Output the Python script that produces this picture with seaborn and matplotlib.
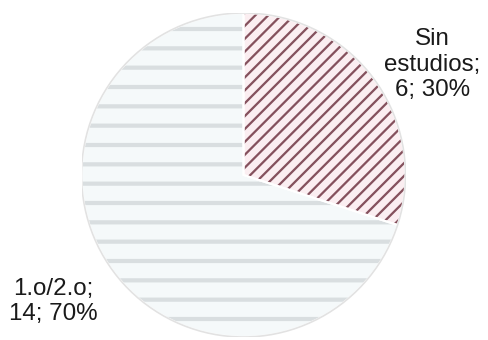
import matplotlib
matplotlib.use("Agg")
import matplotlib.pyplot as plt
import seaborn as sns

# data
categorias = ["Sin\nestudios", "1.o/2.o"]
valores = [6, 14]
porcentajes = [30, 70]

colores_fondo = ["#fbeef1", "#f5f9fa"]
colores_trama = ["#85515d", "#d9dee0"]
tramas = ["///", "-"]

sns.set_style("white")
plt.rcParams["font.family"] = ["Liberation Sans", "DejaVu Sans"]
plt.rcParams["hatch.linewidth"] = 1.4

DPI = 116
fig = plt.figure(figsize=(488 / DPI, 340 / DPI), dpi=DPI)
cx, cy, r = 243.5, 175, 162
ax = fig.add_axes([(cx - r) / 488, (340 - cy - r) / 340, 2 * r / 488, 2 * r / 340])

cunas, _ = ax.pie(valores, startangle=90, counterclock=False, radius=1,
                  colors=colores_fondo, wedgeprops=dict(linewidth=0))
for w, h, c in zip(cunas, tramas, colores_trama):
    w.set_hatch(h)
    w.set_edgecolor(c)
    if h == "-" and hasattr(w, "set_hatch_linewidth"):
        w.set_hatch_linewidth(2.6)

# outline and separator
ax.pie(valores, startangle=90, counterclock=False, radius=1,
       colors=["none", "none"],
       wedgeprops=dict(linewidth=1.3, edgecolor="#ffffff"))
circ = plt.Circle((0, 0), 1.0, fill=False, edgecolor="#e2e2e2", linewidth=1.0)
ax.add_patch(circ)

etiquetas = [f"{c};\n{v}; {p}%" for c, v, p in zip(categorias, valores, porcentajes)]
ax.text(1.165, 0.68, etiquetas[0], ha="center", va="center", fontsize=15,
        linespacing=1.2, color="#1a1a1a", clip_on=False)
ax.text(-1.175, -0.78, etiquetas[1], ha="center", va="center", fontsize=15,
        linespacing=1.2, color="#1a1a1a", clip_on=False)

ax.set_xlim(-1, 1)
ax.set_ylim(-1, 1)
ax.axis("off")
fig.savefig("out.png", dpi=DPI)
